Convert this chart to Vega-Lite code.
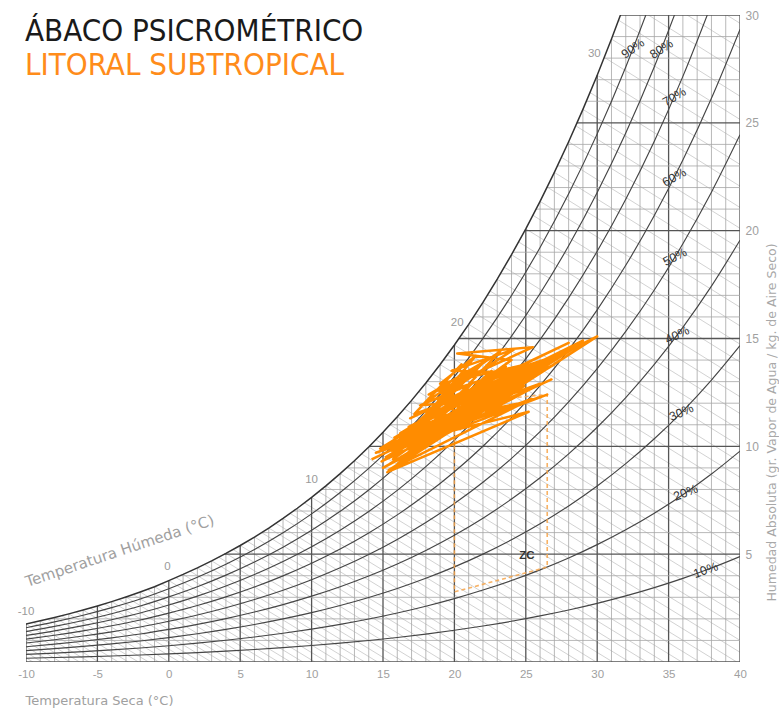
{
"$schema": "https://vega.github.io/schema/vega-lite/v6.json",
"width": 714, "height": 647,
"autosize": {"type": "none"},
"padding": {"left": 26, "top": 15, "right": 39, "bottom": 48},
"background": "white",
"config": {"view": {"stroke": null}, "font": "Liberation Sans, Arial, sans-serif"},
"title": {"text": "ÁBACO PSICROMÉTRICO", "subtitle": "LITORAL SUBTROPICAL", "anchor": "start", "frame": "group", "offset": -73, "dx": -1,
  "font": "DejaVu Sans Condensed, Liberation Sans, Arial, sans-serif", "fontSize": 31, "fontWeight": "normal", "color": "#1a1a1a",
  "subtitleFont": "DejaVu Sans Condensed, Liberation Sans, Arial, sans-serif", "subtitleFontSize": 31, "subtitleColor": "#ff8c1a", "subtitlePadding": 3},
"datasets": {
"sat": [
{"T":-13,"w":1.385,"t0":-9.51},{"T":-12,"w":1.502,"t0":-8.22},{"T":-11,"w":1.627,"t0":-6.91},
{"T":-10,"w":1.764,"t0":-5.574},{"T":-9,"w":1.909,"t0":-4.214},{"T":-8,"w":2.065,"t0":-2.828},{"T":-7,"w":2.231,"t0":-1.417},
{"T":-6,"w":2.409,"t0":0.023},{"T":-5,"w":2.598,"t0":1.489},{"T":-4,"w":2.8,"t0":2.987},{"T":-3,"w":3.016,"t0":4.519},
{"T":-2,"w":3.246,"t0":6.085},{"T":-1,"w":3.49,"t0":7.685},{"T":0,"w":3.775,"t0":9.385},{"T":1,"w":4.06,"t0":11.084},
{"T":2,"w":4.364,"t0":12.829},{"T":3,"w":4.689,"t0":14.625},{"T":4,"w":5.034,"t0":16.468},{"T":5,"w":5.403,"t0":18.37},
{"T":6,"w":5.794,"t0":20.324},{"T":7,"w":6.212,"t0":22.343},{"T":8,"w":6.656,"t0":24.424},{"T":9,"w":7.129,"t0":26.575},
{"T":10,"w":7.632,"t0":28.798},{"T":11,"w":8.165,"t0":31.092},{"T":12,"w":8.732,"t0":33.467},{"T":13,"w":9.333,"t0":35.923},
{"T":14,"w":9.972,"t0":38.469},{"T":15,"w":10.65,"t0":41.107},{"T":16,"w":11.368,"t0":43.841},{"T":17,"w":12.131,"t0":46.682},
{"T":18,"w":12.938,"t0":49.627},{"T":19,"w":13.793,"t0":52.685},{"T":20,"w":14.699,"t0":55.863},{"T":21,"w":15.658,"t0":59.166},
{"T":22,"w":16.673,"t0":62.603},{"T":23,"w":17.748,"t0":66.179},{"T":24,"w":18.884,"t0":69.899},{"T":25,"w":20.086,"t0":73.774},
{"T":26,"w":21.358,"t0":77.815},{"T":27,"w":22.701,"t0":82.021},{"T":28,"w":24.122,"t0":86.409},{"T":29,"w":25.623,"t0":90.985},
{"T":30,"w":27.209,"t0":95.756},{"T":31,"w":28.885,"t0":100.74},{"T":32,"w":30.655,"t0":105.94},{"T":33,"w":32.52,"t0":111.37},
{"T":34,"w":34.5,"t0":117.1},{"T":35,"w":36.58,"t0":123.2},{"T":36,"w":38.79,"t0":129.6},{"T":37,"w":41.11,"t0":136.3},
{"T":38,"w":43.57,"t0":143.4},{"T":39,"w":46.16,"t0":150.8},{"T":40,"w":48.89,"t0":158.6}
],
"wbhalf": [
{"T":-12.5,"w":1.4423,"t0":-8.873},{"T":-11.5,"w":1.5633,"t0":-7.572},{"T":-10.5,"w":1.6941,"t0":-6.247},{"T":-9.5,"w":1.8351,"t0":-4.897},
{"T":-8.5,"w":1.9855,"t0":-3.525},{"T":-7.5,"w":2.1464,"t0":-2.127},{"T":-6.5,"w":2.3183,"t0":-0.702},{"T":-5.5,"w":2.5017,"t0":0.751},
{"T":-4.5,"w":2.6971,"t0":2.233},{"T":-3.5,"w":2.906,"t0":3.748},{"T":-2.5,"w":3.1289,"t0":5.297},{"T":-1.5,"w":3.3658,"t0":6.88},
{"T":-0.5,"w":3.6297,"t0":8.528},{"T":0.5,"w":3.9149,"t0":10.228},{"T":1.5,"w":4.2093,"t0":11.95},{"T":2.5,"w":4.5236,"t0":13.72},
{"T":3.5,"w":4.8585,"t0":15.539},{"T":4.5,"w":5.2153,"t0":17.412},{"T":5.5,"w":5.5951,"t0":19.339},{"T":6.5,"w":5.9994,"t0":21.325},
{"T":7.5,"w":6.4302,"t0":23.375},{"T":8.5,"w":6.8885,"t0":25.49},{"T":9.5,"w":7.3762,"t0":27.676},{"T":10.5,"w":7.894,"t0":29.934},
{"T":11.5,"w":8.4438,"t0":32.267},{"T":12.5,"w":9.0275,"t0":34.682},{"T":13.5,"w":9.6472,"t0":37.183},{"T":14.5,"w":10.3053,"t0":39.775},
{"T":15.5,"w":11.0031,"t0":42.461},{"T":16.5,"w":11.7433,"t0":45.248},{"T":17.5,"w":12.528,"t0":48.139},{"T":18.5,"w":13.3587,"t0":51.139},
{"T":19.5,"w":14.2388,"t0":54.257},{"T":20.5,"w":15.1709,"t0":57.497},{"T":21.5,"w":16.1575,"t0":60.866},{"T":22.5,"w":17.2021,"t0":64.372},
{"T":23.5,"w":18.3072,"t0":68.019},{"T":24.5,"w":19.4757,"t0":71.816},{"T":25.5,"w":20.7123,"t0":75.771},{"T":26.5,"w":22.0193,"t0":79.893},
{"T":27.5,"w":23.4007,"t0":84.188},{"T":28.5,"w":24.861,"t0":88.669},{"T":29.5,"w":26.404,"t0":93.342},{"T":30.5,"w":28.0345,"t0":98.22},
{"T":31.5,"w":29.7569,"t0":103.313},{"T":32.5,"w":31.574,"t0":108.625}
],
"hg": [
{"T":-10,"w":0},{"T":-10,"w":1},{"T":-8.42,"w":2},{"T":-3.07,"w":3},{"T":0.79,"w":4},{"T":3.9,"w":5},{"T":6.49,"w":6},
{"T":8.73,"w":7},{"T":10.69,"w":8},{"T":12.45,"w":9},{"T":14.04,"w":10},{"T":15.49,"w":11},{"T":16.83,"w":12},{"T":18.07,"w":13},
{"T":19.23,"w":14},{"T":20.31,"w":15},{"T":21.34,"w":16},{"T":22.3,"w":17},{"T":23.22,"w":18},{"T":24.1,"w":19},{"T":24.93,"w":20},
{"T":25.72,"w":21},{"T":26.48,"w":22},{"T":27.21,"w":23},{"T":27.91,"w":24},{"T":28.58,"w":25},{"T":29.24,"w":26},{"T":29.87,"w":27},
{"T":30.47,"w":28},{"T":31.06,"w":29},{"T":31.63,"w":30}
],
"rh": [
{"rh":10,"T":-10,"w":0.176},{"rh":10,"T":-8,"w":0.207},{"rh":10,"T":-6,"w":0.241},{"rh":10,"T":-4,"w":0.28},{"rh":10,"T":-2,"w":0.325},{"rh":10,"T":0,"w":0.378},{"rh":10,"T":2,"w":0.436},{"rh":10,"T":4,"w":0.503},{"rh":10,"T":6,"w":0.579},{"rh":10,"T":8,"w":0.666},{"rh":10,"T":10,"w":0.763},{"rh":10,"T":12,"w":0.873},{"rh":10,"T":14,"w":0.997},{"rh":10,"T":16,"w":1.137},{"rh":10,"T":18,"w":1.294},{"rh":10,"T":20,"w":1.47},{"rh":10,"T":22,"w":1.667},{"rh":10,"T":24,"w":1.888},{"rh":10,"T":26,"w":2.136},{"rh":10,"T":28,"w":2.412},{"rh":10,"T":30,"w":2.721},{"rh":10,"T":32,"w":3.066},{"rh":10,"T":34,"w":3.45},{"rh":10,"T":36,"w":3.879},{"rh":10,"T":38,"w":4.357},{"rh":10,"T":40,"w":4.889},
{"rh":20,"T":-10,"w":0.353},{"rh":20,"T":-8,"w":0.413},{"rh":20,"T":-6,"w":0.482},{"rh":20,"T":-4,"w":0.56},{"rh":20,"T":-2,"w":0.649},{"rh":20,"T":0,"w":0.755},{"rh":20,"T":2,"w":0.873},{"rh":20,"T":4,"w":1.007},{"rh":20,"T":6,"w":1.159},{"rh":20,"T":8,"w":1.331},{"rh":20,"T":10,"w":1.526},{"rh":20,"T":12,"w":1.746},{"rh":20,"T":14,"w":1.994},{"rh":20,"T":16,"w":2.274},{"rh":20,"T":18,"w":2.588},{"rh":20,"T":20,"w":2.94},{"rh":20,"T":22,"w":3.335},{"rh":20,"T":24,"w":3.777},{"rh":20,"T":26,"w":4.272},{"rh":20,"T":28,"w":4.824},{"rh":20,"T":30,"w":5.442},{"rh":20,"T":32,"w":6.131},{"rh":20,"T":34,"w":6.9},{"rh":20,"T":36,"w":7.758},{"rh":20,"T":38,"w":8.714},{"rh":20,"T":40,"w":9.778},
{"rh":30,"T":-10,"w":0.529},{"rh":30,"T":-8,"w":0.62},{"rh":30,"T":-6,"w":0.723},{"rh":30,"T":-4,"w":0.84},{"rh":30,"T":-2,"w":0.974},{"rh":30,"T":0,"w":1.133},{"rh":30,"T":2,"w":1.309},{"rh":30,"T":4,"w":1.51},{"rh":30,"T":6,"w":1.738},{"rh":30,"T":8,"w":1.997},{"rh":30,"T":10,"w":2.29},{"rh":30,"T":12,"w":2.62},{"rh":30,"T":14,"w":2.992},{"rh":30,"T":16,"w":3.41},{"rh":30,"T":18,"w":3.881},{"rh":30,"T":20,"w":4.41},{"rh":30,"T":22,"w":5.002},{"rh":30,"T":24,"w":5.665},{"rh":30,"T":26,"w":6.407},{"rh":30,"T":28,"w":7.237},{"rh":30,"T":30,"w":8.163},{"rh":30,"T":32,"w":9.197},{"rh":30,"T":34,"w":10.35},{"rh":30,"T":36,"w":11.637},{"rh":30,"T":38,"w":13.071},{"rh":30,"T":40,"w":14.667},
{"rh":40,"T":-10,"w":0.706},{"rh":40,"T":-8,"w":0.826},{"rh":40,"T":-6,"w":0.964},{"rh":40,"T":-4,"w":1.12},{"rh":40,"T":-2,"w":1.298},{"rh":40,"T":0,"w":1.51},{"rh":40,"T":2,"w":1.746},{"rh":40,"T":4,"w":2.014},{"rh":40,"T":6,"w":2.318},{"rh":40,"T":8,"w":2.662},{"rh":40,"T":10,"w":3.053},{"rh":40,"T":12,"w":3.493},{"rh":40,"T":14,"w":3.989},{"rh":40,"T":16,"w":4.547},{"rh":40,"T":18,"w":5.175},{"rh":40,"T":20,"w":5.88},{"rh":40,"T":22,"w":6.669},{"rh":40,"T":24,"w":7.554},{"rh":40,"T":26,"w":8.543},{"rh":40,"T":28,"w":9.649},{"rh":40,"T":30,"w":10.884},{"rh":40,"T":32,"w":12.262},{"rh":40,"T":34,"w":13.8},{"rh":40,"T":36,"w":15.516},{"rh":40,"T":38,"w":17.428},{"rh":40,"T":40,"w":19.556},
{"rh":50,"T":-10,"w":0.882},{"rh":50,"T":-8,"w":1.033},{"rh":50,"T":-6,"w":1.205},{"rh":50,"T":-4,"w":1.4},{"rh":50,"T":-2,"w":1.623},{"rh":50,"T":0,"w":1.888},{"rh":50,"T":2,"w":2.182},{"rh":50,"T":4,"w":2.517},{"rh":50,"T":6,"w":2.897},{"rh":50,"T":8,"w":3.328},{"rh":50,"T":10,"w":3.816},{"rh":50,"T":12,"w":4.366},{"rh":50,"T":14,"w":4.986},{"rh":50,"T":16,"w":5.684},{"rh":50,"T":18,"w":6.469},{"rh":50,"T":20,"w":7.35},{"rh":50,"T":22,"w":8.337},{"rh":50,"T":24,"w":9.442},{"rh":50,"T":26,"w":10.679},{"rh":50,"T":28,"w":12.061},{"rh":50,"T":30,"w":13.605},{"rh":50,"T":32,"w":15.328},{"rh":50,"T":34,"w":17.25},{"rh":50,"T":36,"w":19.395},{"rh":50,"T":38,"w":21.785},{"rh":50,"T":40,"w":24.445},
{"rh":60,"T":-10,"w":1.058},{"rh":60,"T":-8,"w":1.239},{"rh":60,"T":-6,"w":1.445},{"rh":60,"T":-4,"w":1.68},{"rh":60,"T":-2,"w":1.948},{"rh":60,"T":0,"w":2.265},{"rh":60,"T":2,"w":2.618},{"rh":60,"T":4,"w":3.02},{"rh":60,"T":6,"w":3.476},{"rh":60,"T":8,"w":3.994},{"rh":60,"T":10,"w":4.579},{"rh":60,"T":12,"w":5.239},{"rh":60,"T":14,"w":5.983},{"rh":60,"T":16,"w":6.821},{"rh":60,"T":18,"w":7.763},{"rh":60,"T":20,"w":8.819},{"rh":60,"T":22,"w":10.004},{"rh":60,"T":24,"w":11.33},{"rh":60,"T":26,"w":12.815},{"rh":60,"T":28,"w":14.473},{"rh":60,"T":30,"w":16.325},{"rh":60,"T":32,"w":18.393},{"rh":60,"T":34,"w":20.7},{"rh":60,"T":36,"w":23.274},{"rh":60,"T":38,"w":26.142},{"rh":60,"T":40,"w":29.334},
{"rh":70,"T":-10,"w":1.235},{"rh":70,"T":-8,"w":1.446},{"rh":70,"T":-6,"w":1.686},{"rh":70,"T":-4,"w":1.96},{"rh":70,"T":-2,"w":2.272},{"rh":70,"T":0,"w":2.643},{"rh":70,"T":2,"w":3.055},{"rh":70,"T":4,"w":3.524},{"rh":70,"T":6,"w":4.056},{"rh":70,"T":8,"w":4.659},{"rh":70,"T":10,"w":5.342},{"rh":70,"T":12,"w":6.112},{"rh":70,"T":14,"w":6.98},{"rh":70,"T":16,"w":7.958},{"rh":70,"T":18,"w":9.057},{"rh":70,"T":20,"w":10.289},{"rh":70,"T":22,"w":11.671},{"rh":70,"T":24,"w":13.219},{"rh":70,"T":26,"w":14.951},{"rh":70,"T":28,"w":16.885},{"rh":70,"T":30,"w":19.046},{"rh":70,"T":32,"w":21.459},{"rh":70,"T":34,"w":24.15},{"rh":70,"T":36,"w":27.153},{"rh":70,"T":38,"w":30.499},
{"rh":80,"T":-10,"w":1.411},{"rh":80,"T":-8,"w":1.652},{"rh":80,"T":-6,"w":1.927},{"rh":80,"T":-4,"w":2.24},{"rh":80,"T":-2,"w":2.597},{"rh":80,"T":0,"w":3.02},{"rh":80,"T":2,"w":3.491},{"rh":80,"T":4,"w":4.027},{"rh":80,"T":6,"w":4.635},{"rh":80,"T":8,"w":5.325},{"rh":80,"T":10,"w":6.106},{"rh":80,"T":12,"w":6.986},{"rh":80,"T":14,"w":7.978},{"rh":80,"T":16,"w":9.094},{"rh":80,"T":18,"w":10.35},{"rh":80,"T":20,"w":11.759},{"rh":80,"T":22,"w":13.338},{"rh":80,"T":24,"w":15.107},{"rh":80,"T":26,"w":17.086},{"rh":80,"T":28,"w":19.298},{"rh":80,"T":30,"w":21.767},{"rh":80,"T":32,"w":24.524},{"rh":80,"T":34,"w":27.6},{"rh":80,"T":36,"w":31.032},
{"rh":90,"T":-10,"w":1.588},{"rh":90,"T":-8,"w":1.859},{"rh":90,"T":-6,"w":2.168},{"rh":90,"T":-4,"w":2.52},{"rh":90,"T":-2,"w":2.921},{"rh":90,"T":0,"w":3.398},{"rh":90,"T":2,"w":3.928},{"rh":90,"T":4,"w":4.531},{"rh":90,"T":6,"w":5.215},{"rh":90,"T":8,"w":5.99},{"rh":90,"T":10,"w":6.869},{"rh":90,"T":12,"w":7.859},{"rh":90,"T":14,"w":8.975},{"rh":90,"T":16,"w":10.231},{"rh":90,"T":18,"w":11.644},{"rh":90,"T":20,"w":13.229},{"rh":90,"T":22,"w":15.006},{"rh":90,"T":24,"w":16.996},{"rh":90,"T":26,"w":19.222},{"rh":90,"T":28,"w":21.71},{"rh":90,"T":30,"w":24.488},{"rh":90,"T":32,"w":27.59},{"rh":90,"T":34,"w":31.05}
],
"pts": [
{"i":1,"T":14.2,"w":9.4},{"i":2,"T":24.5,"w":12.6},{"i":3,"T":15.0,"w":9.0},{"i":4,"T":26.0,"w":12.9},{"i":5,"T":16.2,"w":10.6},
{"i":6,"T":23.8,"w":13.6},{"i":7,"T":14.8,"w":9.9},{"i":8,"T":25.2,"w":11.6},{"i":9,"T":15.3,"w":8.8},{"i":10,"T":30.0,"w":15.1},
{"i":11,"T":17.5,"w":11.0},{"i":12,"T":22.0,"w":13.9},{"i":13,"T":18.2,"w":12.4},{"i":14,"T":25.5,"w":14.6},{"i":15,"T":20.2,"w":14.3},
{"i":16,"T":24.0,"w":14.0},{"i":17,"T":16.0,"w":10.2},{"i":18,"T":27.0,"w":13.8},{"i":19,"T":15.5,"w":9.2},{"i":20,"T":23.0,"w":12.0},
{"i":21,"T":14.5,"w":9.7},{"i":22,"T":26.5,"w":12.4},{"i":23,"T":17.0,"w":10.0},{"i":24,"T":28.5,"w":14.6},{"i":25,"T":16.5,"w":9.6},
{"i":26,"T":24.8,"w":13.2},{"i":27,"T":18.5,"w":11.8},{"i":28,"T":21.5,"w":14.2},{"i":29,"T":19.0,"w":12.9},{"i":30,"T":25.0,"w":13.8},
{"i":31,"T":15.8,"w":10.4},{"i":32,"T":22.5,"w":12.3},{"i":33,"T":15.2,"w":9.5},{"i":34,"T":27.5,"w":14.4},{"i":35,"T":17.8,"w":10.5},
{"i":36,"T":29.0,"w":14.9},{"i":37,"T":16.8,"w":10.9},{"i":38,"T":23.5,"w":13.0},{"i":39,"T":14.9,"w":9.3},{"i":40,"T":21.0,"w":11.2},
{"i":41,"T":18.8,"w":12.2},{"i":42,"T":24.2,"w":14.5},{"i":43,"T":19.8,"w":13.5},{"i":44,"T":25.8,"w":13.4},{"i":45,"T":16.3,"w":9.9},
{"i":46,"T":26.8,"w":13.1},{"i":47,"T":15.6,"w":9.8},{"i":48,"T":22.8,"w":12.8},{"i":49,"T":17.2,"w":11.5},{"i":50,"T":20.5,"w":13.8},
{"i":51,"T":17.9,"w":12.0},{"i":52,"T":23.2,"w":14.4},{"i":53,"T":18.6,"w":11.2},{"i":54,"T":24.6,"w":12.0},{"i":55,"T":15.1,"w":10.0},
{"i":56,"T":21.8,"w":11.9},{"i":57,"T":16.6,"w":10.1},{"i":58,"T":25.4,"w":12.2},{"i":59,"T":15.4,"w":8.9},{"i":60,"T":19.5,"w":10.6},
{"i":61,"T":20.8,"w":12.6},{"i":62,"T":16.9,"w":11.3},{"i":63,"T":28.0,"w":14.8},{"i":64,"T":18.0,"w":11.6},{"i":65,"T":26.2,"w":14.0},
{"i":66,"T":19.3,"w":12.5},{"i":67,"T":22.2,"w":14.0},{"i":68,"T":17.4,"w":10.8},{"i":69,"T":15.7,"w":9.4},{"i":70,"T":22.4,"w":12.6},
{"i":71,"T":16.1,"w":10.0},{"i":72,"T":24.3,"w":13.3},{"i":73,"T":15.9,"w":9.1},{"i":74,"T":21.2,"w":12.9},{"i":75,"T":17.6,"w":11.9},
{"i":76,"T":23.9,"w":12.2},{"i":77,"T":16.4,"w":10.4},{"i":78,"T":25.9,"w":13.6},{"i":79,"T":17.3,"w":10.3},{"i":80,"T":22.6,"w":13.5},
{"i":81,"T":18.4,"w":11.0},{"i":82,"T":24.9,"w":12.8},{"i":83,"T":16.7,"w":9.5},{"i":84,"T":21.4,"w":12.4},{"i":85,"T":19.1,"w":11.5},
{"i":86,"T":23.6,"w":13.7},{"i":87,"T":17.1,"w":10.7},{"i":88,"T":20.9,"w":13.3},{"i":89,"T":15.5,"w":9.9},{"i":90,"T":22.9,"w":11.7},
{"i":91,"T":18.9,"w":12.6},{"i":92,"T":20.0,"w":11.9},{"i":93,"T":16.0,"w":9.7}
],
"zc": [
{"i":1,"T":20,"w":12.0},{"i":2,"T":20,"w":3.25},{"i":3,"T":26.5,"w":4.4},{"i":4,"T":26.5,"w":12.4},{"i":5,"T":20,"w":12.0}
],
"rhlab": [
{"lab":"90%","rh":90,"T":32.5,"w":28.44},{"lab":"80%","rh":80,"T":34.5,"w":28.42},{"lab":"70%","rh":70,"T":35.4,"w":26.2},
{"lab":"60%","rh":60,"T":35.4,"w":22.47},{"lab":"50%","rh":50,"T":35.45,"w":18.78},{"lab":"40%","rh":40,"T":35.6,"w":15.16},
{"lab":"30%","rh":30,"T":35.9,"w":11.57},{"lab":"20%","rh":20,"T":36.2,"w":7.85},{"lab":"10%","rh":10,"T":37.6,"w":4.26}
],
"wblab": [
{"lab":"-10","T":-10,"w":2.3},{"lab":"0","T":-0.1,"w":4.4},{"lab":"10","T":10,"w":8.45},{"lab":"20","T":20.2,"w":15.7},{"lab":"30","T":29.8,"w":28.2}
]
},
"encoding": {
  "x": {"field": "T", "type": "quantitative", "scale": {"domain": [-10, 40], "nice": false, "zero": false},
    "axis": {"values": [-10,-5,0,5,10,15,20,25,30,35,40], "domain": false, "ticks": false, "grid": false, "labelFlush": false,
      "labelExpr": "replace(datum.label, '−', '-')",
      "labelColor": "#a0a0a0", "labelFontSize": 11.5, "labelPadding": 6,
      "title": "Temperatura Seca (°C)", "titleX": -1, "titleY": 42, "titleAlign": "left", "titleBaseline": "alphabetic",
      "titleFont": "DejaVu Sans, sans-serif", "titleFontWeight": "normal", "titleFontSize": 13, "titleColor": "#a0a0a0"}},
  "y": {"field": "w", "type": "quantitative", "scale": {"domain": [0, 30], "nice": false, "zero": false},
    "axis": {"orient": "right", "values": [5,10,15,20,25,30], "domain": false, "ticks": false, "grid": false, "labelFlush": false,
      "labelColor": "#a0a0a0", "labelFontSize": 12, "labelPadding": 5,
      "title": "Humedad Absoluta (gr. Vapor de Agua / kg. de Aire Seco)", "titleAngle": 270, "titleX": 31, "titleY": 407,
      "titleAlign": "center", "titleBaseline": "middle", "titleFont": "DejaVu Sans, sans-serif", "titleFontWeight": "normal", "titleFontSize": 12.5, "titleColor": "#a8a8a8"}}
},
"layer": [
  {"data": {"name": "sat"}, "mark": {"type": "rule", "clip": true, "stroke": "#c6c6c6", "strokeWidth": 0.8},
   "encoding": {"x2": {"field": "t0"}, "y2": {"datum": 0}}},
  {"data": {"name": "wbhalf"}, "mark": {"type": "rule", "clip": true, "stroke": "#c6c6c6", "strokeWidth": 0.8},
   "encoding": {"x2": {"field": "t0"}, "y2": {"datum": 0}}},
  {"data": {"name": "sat"}, "mark": {"type": "rule", "clip": true},
   "encoding": {"y2": {"datum": 0},
     "stroke": {"condition": {"test": "datum.T % 5 === 0", "value": "#555555"}, "value": "#a6a6a6"},
     "strokeWidth": {"condition": {"test": "datum.T % 5 === 0", "value": 1.3}, "value": 0.8}}},
  {"data": {"name": "hg"}, "mark": {"type": "rule", "clip": true},
   "encoding": {"x2": {"datum": 40},
     "stroke": {"condition": {"test": "datum.w % 5 === 0", "value": "#555555"}, "value": "#a6a6a6"},
     "strokeWidth": {"condition": {"test": "datum.w % 5 === 0", "value": 1.3}, "value": 0.8}}},
  {"data": {"name": "rh"}, "mark": {"type": "line", "clip": true, "interpolate": "monotone", "stroke": "#454545", "strokeWidth": 1.15},
   "encoding": {"detail": {"field": "rh", "type": "nominal"}}},
  {"data": {"name": "sat"}, "mark": {"type": "line", "clip": true, "stroke": "#333333", "strokeWidth": 1.5}, "encoding": {}},
  {"data": {"name": "zc"}, "mark": {"type": "line", "stroke": "#f7a54a", "strokeWidth": 1.6, "strokeDash": [4, 3], "opacity": 0.85},
   "encoding": {"order": {"field": "i", "type": "quantitative"}}},
  {"data": {"name": "pts"}, "mark": {"type": "line", "stroke": "#ff8c00", "strokeWidth": 2.5, "strokeJoin": "round"},
   "encoding": {"order": {"field": "i", "type": "quantitative"}}},
  {"data": {"name": "rhlab"}, "mark": {"type": "text", "fontSize": 12.5, "fill": "#333333", "align": "center", "baseline": "middle"},
   "encoding": {"text": {"field": "lab"},
     "angle": {"field": "rh", "type": "ordinal", "scale": {"domain": [10,20,30,40,50,60,70,80,90], "range": [-20,-35,-45,-53,-59,-63.5,-67,-68,-68.5]}, "legend": null}}},
  {"data": {"name": "wblab"}, "mark": {"type": "text", "fontSize": 11.5, "fill": "#9a9a9a", "align": "center", "baseline": "middle"},
   "encoding": {"text": {"field": "lab"}}},
  {"data": {"values": [{"lab": "Temperatura Húmeda (°C)", "T": -3.43, "w": 5.15}]},
   "mark": {"type": "text", "font": "DejaVu Sans, sans-serif", "fontSize": 15, "fill": "#a0a0a0", "angle": -18.5, "align": "center", "baseline": "middle"},
   "encoding": {"text": {"field": "lab"}}},
  {"data": {"values": [{"lab": "ZC", "T": 25.07, "w": 4.91}]},
   "mark": {"type": "text", "fontSize": 11.5, "fontWeight": "bold", "fill": "#333333", "align": "center", "baseline": "middle"},
   "encoding": {"text": {"field": "lab"}}}
]
}
